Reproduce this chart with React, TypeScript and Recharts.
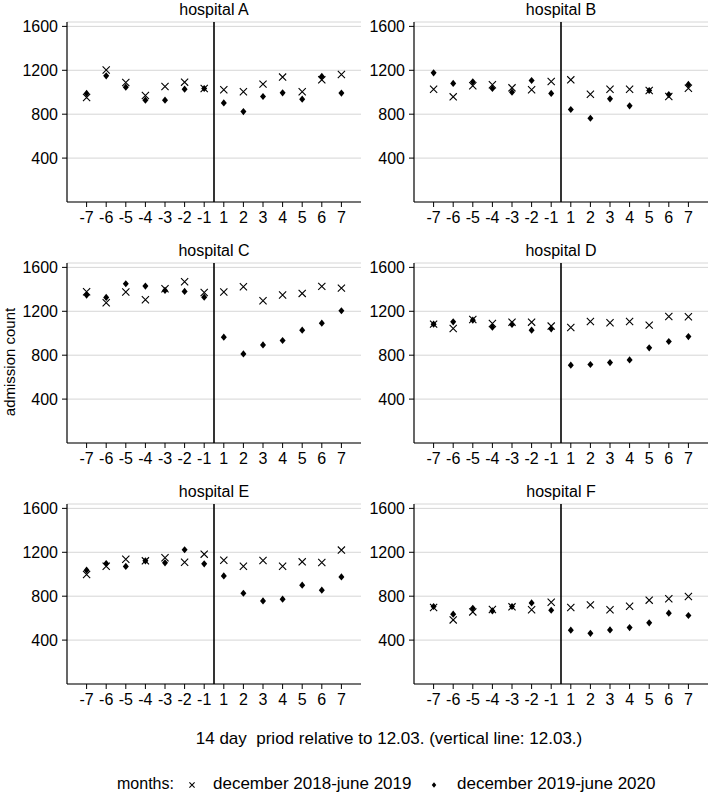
import { CartesianGrid, ReferenceLine, Scatter, ScatterChart, XAxis, YAxis } from "recharts";

// 14 day window around 12.03., x position i+1 on a numeric axis
const DAYS = ["-7", "-6", "-5", "-4", "-3", "-2", "-1", "1", "2", "3", "4", "5", "6", "7"];
const Y_TICKS = [400, 800, 1200, 1600];
const HOSPITALS = ["hospital A", "hospital B", "hospital C", "hospital D", "hospital E", "hospital F"];
const SERIES_NAMES = ["december 2018-june 2019", "december 2019-june 2020"];

// december 2018 - june 2019 (crosses)
const A_PREV = [952, 1202, 1089, 970, 1052, 1092, 1034, 1022, 1004, 1074, 1138, 1004, 1113, 1162];
const B_PREV = [1028, 958, 1059, 1068, 1040, 1022, 1098, 1113, 982, 1028, 1028, 1016, 961, 1037];
const C_PREV = [1378, 1278, 1375, 1305, 1405, 1469, 1372, 1375, 1424, 1296, 1348, 1363, 1427, 1411];
const D_PREV = [1083, 1043, 1125, 1089, 1101, 1101, 1065, 1052, 1107, 1095, 1107, 1074, 1153, 1150];
const E_PREV = [997, 1073, 1137, 1122, 1150, 1110, 1183, 1128, 1073, 1125, 1073, 1113, 1107, 1220];
const F_PREV = [697, 584, 657, 679, 703, 676, 745, 697, 721, 676, 709, 764, 776, 797];

// december 2019 - june 2020 (diamonds)
const A_CUR = [989, 1150, 1046, 928, 928, 1028, 1034, 903, 824, 961, 995, 937, 1144, 992];
const B_CUR = [1177, 1080, 1095, 1034, 1001, 1107, 989, 843, 763, 940, 876, 1016, 979, 1071];
const C_CUR = [1348, 1326, 1451, 1430, 1390, 1381, 1329, 964, 812, 894, 934, 1028, 1092, 1205];
const D_CUR = [1083, 1104, 1119, 1055, 1080, 1028, 1040, 709, 715, 733, 757, 867, 925, 970];
const E_CUR = [1037, 1098, 1071, 1122, 1104, 1223, 1095, 985, 827, 757, 773, 900, 855, 976];
const F_CUR = [706, 636, 690, 666, 706, 739, 672, 490, 462, 493, 514, 557, 645, 624];

const PREV = [A_PREV, B_PREV, C_PREV, D_PREV, E_PREV, F_PREV];
const CUR = [A_CUR, B_CUR, C_CUR, D_CUR, E_CUR, F_CUR];

const FONT = '"Liberation Sans", Arial, sans-serif';
const PLOT_LEFT = [67, 414];
const PLOT_TOP = [22, 263, 504];
const Y_AXIS_W = 67;
const PLOT_W = 294;
const PLOT_H = 180;
const TOP_PAD = 12;

const toPoints = (vals: number[]) => vals.map((v, i) => ({ x: i + 1, y: v }));

function Cross(props: any) {
  const { cx, cy, r = 3.6 } = props;
  if (cx == null || cy == null) return null;
  return (
    <path
      d={`M${cx - r},${cy - r}L${cx + r},${cy + r}M${cx - r},${cy + r}L${cx + r},${cy - r}`}
      stroke="#000"
      strokeWidth={1.1}
      fill="none"
    />
  );
}

function Diamond(props: any) {
  const { cx, cy, s = 1 } = props;
  if (cx == null || cy == null) return null;
  const h = 3.6 * s;
  const w = 3 * s;
  return <path d={`M${cx},${cy - h}L${cx + w},${cy}L${cx},${cy + h}L${cx - w},${cy}Z`} fill="#000" />;
}

function Panel({ idx }: { idx: number }) {
  const col = idx % 2;
  const row = Math.floor(idx / 2);
  const left = PLOT_LEFT[col] - Y_AXIS_W;
  const top = PLOT_TOP[row] - TOP_PAD;
  const tickStyle = { fill: "#000", fontSize: 16, fontFamily: FONT };
  return (
    <>
      <div style={{ position: "absolute", left, top }}>
        <ScatterChart
          width={Y_AXIS_W + PLOT_W + 2}
          height={TOP_PAD + PLOT_H + 32}
          margin={{ top: TOP_PAD, right: 2, bottom: 0, left: 0 }}
        >
          <CartesianGrid vertical={false} stroke="#d6d6d6" strokeWidth={1} />
          <XAxis
            type="number"
            dataKey="x"
            domain={[0, DAYS.length + 1]}
            ticks={DAYS.map((_, i) => i + 1)}
            interval={0}
            tickFormatter={(v: number) => DAYS[v - 1]}
            height={32}
            axisLine={{ stroke: "#000", strokeWidth: 1.2 }}
            tickLine={{ stroke: "#000" }}
            tickSize={5}
            tickMargin={5}
            tick={tickStyle}
          />
          <YAxis
            type="number"
            dataKey="y"
            domain={[0, 1640]}
            ticks={Y_TICKS}
            interval={0}
            width={Y_AXIS_W}
            axisLine={{ stroke: "#000", strokeWidth: 1.2 }}
            tickLine={{ stroke: "#000" }}
            tickSize={5}
            tickMargin={4}
            tick={tickStyle}
          />
          <ReferenceLine x={7.5} stroke="#000" strokeWidth={1.6} />
          <Scatter data={toPoints(PREV[idx])} shape={Cross} isAnimationActive={false} />
          <Scatter data={toPoints(CUR[idx])} shape={Diamond} isAnimationActive={false} />
        </ScatterChart>
      </div>
      <div
        style={{
          position: "absolute",
          left: PLOT_LEFT[col],
          width: PLOT_W,
          top: PLOT_TOP[row] - 22,
          textAlign: "center",
          fontSize: 16,
          lineHeight: "19px",
          fontFamily: FONT,
        }}
      >
        {HOSPITALS[idx]}
      </div>
    </>
  );
}

export default function App() {
  return (
    <div
      style={{
        position: "absolute",
        left: 0,
        top: 0,
        width: 709,
        height: 794,
        background: "#fff",
        fontFamily: FONT,
        color: "#000",
      }}
    >
      {HOSPITALS.map((h, i) => (
        <Panel key={h} idx={i} />
      ))}
      <div
        style={{
          position: "absolute",
          left: 9,
          top: 362,
          transform: "translate(-50%, -50%) rotate(-90deg)",
          fontSize: 15,
          whiteSpace: "nowrap",
        }}
      >
        admission count
      </div>
      <div
        style={{
          position: "absolute",
          left: 0,
          width: 778,
          top: 729,
          textAlign: "center",
          fontSize: 17,
          lineHeight: "20px",
          whiteSpace: "pre",
        }}
      >
        {"14 day  priod relative to 12.03. (vertical line: 12.03.)"}
      </div>
      <div style={{ position: "absolute", left: 117, top: 774, fontSize: 16, lineHeight: "20px" }}>months:</div>
      <svg style={{ position: "absolute", left: 187, top: 780 }} width={10} height={10}>
        <Cross cx={5} cy={5} r={2.6} />
      </svg>
      <div style={{ position: "absolute", left: 213, top: 774, fontSize: 17, lineHeight: "20px" }}>
        {SERIES_NAMES[0]}
      </div>
      <svg style={{ position: "absolute", left: 429, top: 780 }} width={10} height={10}>
        <Diamond cx={5} cy={5} s={0.75} />
      </svg>
      <div style={{ position: "absolute", left: 457, top: 774, fontSize: 17, lineHeight: "20px" }}>
        {SERIES_NAMES[1]}
      </div>
    </div>
  );
}
